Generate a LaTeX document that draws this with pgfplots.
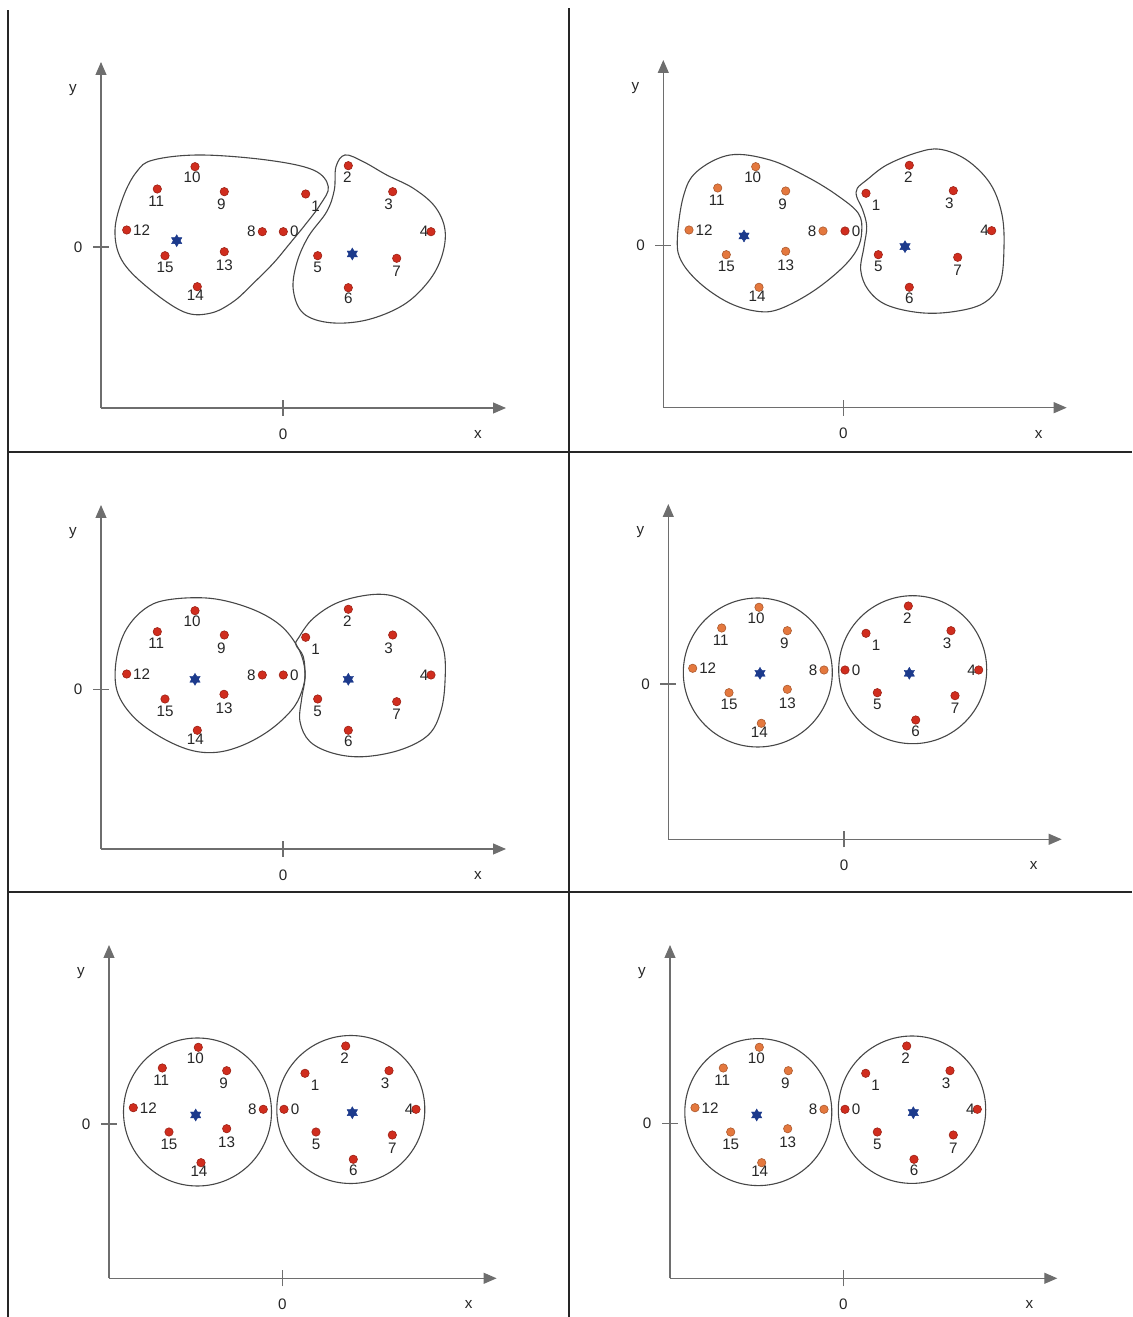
\documentclass[border=0pt]{standalone}
\usepackage{fontspec}
\setmainfont{Liberation Sans}
\usepackage{pgfplots}
\usepackage{pgfplotstable}
\pgfplotsset{compat=1.18}
\usetikzlibrary{arrows.meta}

\definecolor{ptred}{RGB}{208,45,30}
\definecolor{ptorange}{RGB}{228,120,62}
\definecolor{starblue}{RGB}{28,58,140}
\definecolor{axgray}{RGB}{110,110,110}

\newcommand{\lblfont}{\fontsize{7.6}{9}\selectfont}

% filled six-pointed star for the cluster centres
\pgfdeclareplotmark{hexstar}{%
  \pgfpathmoveto{\pgfqpoint{0pt}{\pgfplotmarksize}}%
  \pgfpathlineto{\pgfqpointpolar{210}{\pgfplotmarksize}}%
  \pgfpathlineto{\pgfqpointpolar{330}{\pgfplotmarksize}}%
  \pgfpathclose
  \pgfpathmoveto{\pgfqpoint{0pt}{-\pgfplotmarksize}}%
  \pgfpathlineto{\pgfqpointpolar{30}{\pgfplotmarksize}}%
  \pgfpathlineto{\pgfqpointpolar{150}{\pgfplotmarksize}}%
  \pgfpathclose
  \pgfusepathqfillstroke
}

\tikzset{blobline/.style={draw=black!72, line width=0.55pt}}

\pgfplotsset{
  panel/.style={
    x=0.5pt, y=0.5pt,
    axis lines=left,
    axis line style={draw=axgray, line width=0.55pt},
    x axis line style={-{Triangle[length=6.5pt,width=5.5pt]}},
    y axis line style={-{Triangle[length=6.5pt,width=5.5pt]}},
    xtick={0}, ytick={0},
    tick align=center, major tick length=8pt,
    tick style={draw=axgray, line width=0.55pt},
    xticklabel style={anchor=center, yshift=-9pt},
    yticklabel style={anchor=center, xshift=-7.4pt},
    ticklabel style={font=\lblfont, text=black!85},
    /pgf/number format/assume math mode=true,
    enlargelimits=false, clip=false,
    anchor=origin,
    extra description/.code={
      \node[font=\lblfont, text=black!85, xshift=-14pt, yshift=-13.3pt] at (1,0) {x};
      \node[font=\lblfont, text=black!85, xshift=-14pt, yshift=-13.8pt] at (0,1) {y};
    },
  },
  pts/.style={
    only marks, mark=*, mark size=2.1pt,
    mark options={fill=#1, draw=#1!75!black, line width=0.3pt},
    nodes near coords, point meta=explicit symbolic,
    visualization depends on={\thisrow{dx}\as\lblx},
    visualization depends on={\thisrow{dy}\as\lbly},
    every node near coord/.append style={anchor=center,
      xshift={0.5pt*(\lblx)}, yshift={0.5pt*(\lbly)},
      font=\lblfont, text=black!85, inner sep=0pt},
  },
  centres/.style={
    only marks, mark=hexstar, mark size=3pt,
    mark options={fill=starblue, draw=starblue, line width=0.2pt},
  },
}

% ---------- panel 1 ----------
\pgfplotstableread{
x y dx dy lbl
0.3 15.3 11 0 0
22.7 53 10 -12 1
65.3 81.3 -1 -12 2
109.7 55.3 -4 -13 3
148 15.3 -7 0 4
34.7 -8.7 0 -12 5
65.3 -40.7 0 -11 6
113.7 -11.3 0 -13 7
}\pAa
\pgfplotstableread{
x y dx dy lbl
-20.7 15.3 -11 0 8
-58.7 55.3 -3 -13 9
-88 80.3 -3 -11 10
-125.7 58 -1 -12 11
-156.3 17 15 0 12
-58.7 -4.7 0 -14 13
-85.7 -39.7 -2 -9 14
-118 -8.7 0 -12 15
}\pAb
% ---------- panel 2 ----------
\pgfplotstableread{
x y dx dy lbl
1.7 14.7 11 0 0
22.7 52.4 10 -12 1
66 80.4 -1 -12 2
110 55 -4 -13 3
148.4 15 -7 0 4
35 -9 0 -12 5
66 -41.6 0 -11 6
114.4 -11.6 0 -13 7
}\pBa
\pgfplotstableread{
x y dx dy lbl
-20.3 14.7 -11 0 8
-57.6 54.7 -3 -13 9
-87.6 79 -3 -11 10
-125.6 57.7 -1 -12 11
-154.3 15.7 15 0 12
-57.6 -5.6 0 -14 13
-84.3 -41.6 -2 -9 14
-117 -9 0 -12 15
}\pBb
% ---------- panel 3 ----------
\pgfplotstableread{
x y dx dy lbl
0.3 14.5 11 0 0
22.7 52.2 10 -12 1
65.3 80.2 -1 -12 2
109.7 54.5 -4 -13 3
148 14.5 -7 0 4
34.7 -9.5 0 -12 5
65.3 -40.8 0 -11 6
113.7 -12.2 0 -13 7
}\pCa
\pgfplotstableread{
x y dx dy lbl
-20.7 14.5 -11 0 8
-58.7 54.5 -3 -13 9
-88 78.8 -3 -11 10
-125.7 57.8 -1 -12 11
-156.3 15.5 15 0 12
-59 -4.8 0 -14 13
-85.7 -40.8 -2 -9 14
-118 -9.5 0 -12 15
}\pCb
% ---------- panel 4 ----------
\pgfplotstableread{
x y dx dy lbl
1 14 11 0 0
22 50.7 10 -12 1
64.3 78 -1 -12 2
107 53.3 -4 -13 3
134.7 14 -7 0 4
33.3 -8.7 0 -12 5
71.7 -36 0 -11 6
111 -11.7 0 -13 7
}\pDa
\pgfplotstableread{
x y dx dy lbl
-20 14 -11 0 8
-56.7 53.3 -3 -13 9
-85 76.7 -3 -11 10
-122.3 56 -1 -12 11
-151.3 15.7 15 0 12
-56.7 -5.3 0 -14 13
-82.7 -39.3 -2 -9 14
-115 -8.7 0 -12 15
}\pDb
% ---------- panel 5 ----------
\pgfplotstableread{
x y dx dy lbl
1.7 14.7 11 0 0
22.7 50.7 10 -12 1
63.4 78 -1 -12 2
106.7 53.3 -4 -13 3
133.7 14.7 -7 0 4
33.7 -8 0 -12 5
71 -35.3 0 -11 6
110 -11 0 -13 7
}\pEa
\pgfplotstableread{
x y dx dy lbl
-19 14.7 -11 0 8
-55.6 53.3 -3 -13 9
-84 76.7 -3 -11 10
-120 56 -1 -12 11
-149 16.3 15 0 12
-55.6 -4.7 0 -14 13
-81.3 -38.7 -2 -9 14
-113.3 -8 0 -12 15
}\pEb
% ---------- panel 6 ----------
\pgfplotstableread{
x y dx dy lbl
1.7 14 11 0 0
22.4 50 10 -12 1
63.4 77.3 -1 -12 2
106.7 52.6 -4 -13 3
134 14 -7 0 4
34 -8.7 0 -12 5
70.7 -36 0 -11 6
110 -11.7 0 -13 7
}\pFa
\pgfplotstableread{
x y dx dy lbl
-19.3 14 -11 0 8
-55 52.6 -3 -13 9
-84 76 -3 -11 10
-120 55.3 -1 -12 11
-148.3 15.6 15 0 12
-55.6 -5.4 0 -14 13
-81.6 -39.4 -2 -9 14
-112.6 -8.7 0 -12 15
}\pFb

\begin{document}
\begin{tikzpicture}[x=0.5pt,y=0.5pt]
\useasboundingbox (0,0) rectangle (1132,1317);
% frame lines between the six panels
\draw[line width=1pt, black!85] (8,0) -- (8,1307);
\draw[line width=1pt, black!85] (569,0) -- (569,1309);
\draw[line width=1pt, black!85] (8,865) -- (1132,865);
\draw[line width=1pt, black!85] (8,425) -- (1132,425);

% ---------------- panel 1 ----------------
\begin{axis}[panel, at={(283,1070)}, xmin=-182, xmax=223, ymin=-161, ymax=185]
\draw[blobline] plot[smooth cycle, tension=0.6] coordinates {
 (axis cs:-129.7,87) (axis cs:-83,92) (axis cs:-16.3,87) (axis cs:30.3,77)
 (axis cs:45.3,60.3) (axis cs:37,42) (axis cs:22,22) (axis cs:7,3.7)
 (axis cs:-9.7,-16.3) (axis cs:-29.7,-36.3) (axis cs:-49.7,-54.7) (axis cs:-73,-66.3)
 (axis cs:-99.7,-64.7) (axis cs:-136.3,-39.7) (axis cs:-161.3,-13) (axis cs:-168,17)
 (axis cs:-159.7,50.3) (axis cs:-146.3,75.3)};
\draw[blobline] plot[smooth cycle, tension=0.6] coordinates {
 (axis cs:62,92) (axis cs:80.3,85.3) (axis cs:103.7,72) (axis cs:130.3,58.7)
 (axis cs:152,40.3) (axis cs:162,17) (axis cs:158.7,-9.7) (axis cs:145.3,-34.7)
 (axis cs:120.3,-58) (axis cs:83.7,-73) (axis cs:47,-75.7) (axis cs:20.3,-66.3)
 (axis cs:10.3,-43) (axis cs:13.7,-16.3) (axis cs:25.3,10.3) (axis cs:43.7,35.3)
 (axis cs:51.3,57) (axis cs:53,80.3)};
\addplot[pts=ptred] table[x=x,y=y,meta=lbl] {\pAa};
\addplot[pts=ptred] table[x=x,y=y,meta=lbl] {\pAb};
\addplot[centres] coordinates {(-106.3,6.3) (69.3,-7)};
\end{axis}

% ---------------- panel 2 ----------------
\begin{axis}[panel, at={(843.3,1071.3)}, xmin=-180, xmax=223.4, ymin=-162, ymax=185.7]
\draw[blobline] plot[smooth cycle, tension=0.6] coordinates {
 (axis cs:-166,5.7) (axis cs:-160,49) (axis cs:-146.6,74) (axis cs:-113.3,90.7)
 (axis cs:-73.3,85.7) (axis cs:-36.6,69) (axis cs:-6.6,50.7) (axis cs:15,32.4)
 (axis cs:18.4,14) (axis cs:13.4,-4.3) (axis cs:-3.3,-24.3) (axis cs:-33.3,-47.6)
 (axis cs:-66.6,-64.3) (axis cs:-90,-65) (axis cs:-116.6,-56) (axis cs:-143.3,-37.6)
 (axis cs:-161.6,-16)};
\draw[blobline] plot[smooth cycle, tension=0.6] coordinates {
 (axis cs:14,57.4) (axis cs:13.4,49) (axis cs:19.4,35.7) (axis cs:23.4,19)
 (axis cs:20.7,-1) (axis cs:17.4,-24.3) (axis cs:25,-44.3) (axis cs:43.4,-59.3)
 (axis cs:76.7,-67) (axis cs:110,-66) (axis cs:140,-57.6) (axis cs:156.7,-37.6)
 (axis cs:160.7,-1) (axis cs:158.4,32.4) (axis cs:146.7,62.4) (axis cs:123.4,85.7)
 (axis cs:96.7,96.4) (axis cs:73.4,93) (axis cs:43.4,80.7) (axis cs:23.4,65.7)};
\addplot[pts=ptred] table[x=x,y=y,meta=lbl] {\pBa};
\addplot[pts=ptorange] table[x=x,y=y,meta=lbl] {\pBb};
\addplot[centres] coordinates {(-99.3,9.7) (61.7,-1)};
\end{axis}

% ---------------- panel 3 ----------------
\begin{axis}[panel, at={(283,627.5)}, xmin=-182, xmax=223, ymin=-159.5, ymax=184.5]
\draw[blobline] plot[smooth cycle, tension=0.6] coordinates {
 (axis cs:-139.7,79.5) (axis cs:-116.3,89.5) (axis cs:-73,91.2) (axis cs:-33,81.2)
 (axis cs:-3,64.5) (axis cs:15.3,41.2) (axis cs:22,17.8) (axis cs:18.7,-2.2)
 (axis cs:8.7,-20.5) (axis cs:-13,-40.5) (axis cs:-39.7,-55.5) (axis cs:-66.3,-62.8)
 (axis cs:-93,-60.5) (axis cs:-123,-47.2) (axis cs:-149.7,-27.2) (axis cs:-165.7,-2.2)
 (axis cs:-167,27.8) (axis cs:-158,57.8)};
\draw[blobline] plot[smooth cycle, tension=0.6] coordinates {
 (axis cs:15.3,51.2) (axis cs:30.3,71.2) (axis cs:57,87.8) (axis cs:93.7,95.2)
 (axis cs:120.3,89.5) (axis cs:145.3,69.5) (axis cs:160.3,41.2) (axis cs:162,7.8)
 (axis cs:157.7,-22.2) (axis cs:145.3,-45.5) (axis cs:117,-60.5) (axis cs:80.3,-67.2)
 (axis cs:50.3,-63.8) (axis cs:27,-52.2) (axis cs:17,-32.2) (axis cs:18.7,-8.8)
 (axis cs:22,11.2) (axis cs:20.3,32.8) (axis cs:13,44.5)};
\addplot[pts=ptred] table[x=x,y=y,meta=lbl] {\pCa};
\addplot[pts=ptred] table[x=x,y=y,meta=lbl] {\pCb};
\addplot[centres] coordinates {(-88,10.2) (65.3,10.2)};
\end{axis}

% ---------------- panel 4 ----------------
\begin{axis}[panel, at={(844,633)}, xmin=-175.7, xmax=217.7, ymin=-155.3, ymax=180]
\draw[blobline] (axis cs:-86.2,11.5) circle[radius=74.5];
\draw[blobline] (axis cs:68.7,14.3) circle[radius=74];
\addplot[pts=ptred] table[x=x,y=y,meta=lbl] {\pDa};
\addplot[pts=ptorange] table[x=x,y=y,meta=lbl] {\pDb};
\addplot[centres] coordinates {(-84,10.7) (65.3,10.7)};
\end{axis}

% ---------------- panel 5 ----------------
\begin{axis}[panel, at={(282.3,193)}, xmin=-173.3, xmax=214.3, ymin=-154.3, ymax=179]
\draw[blobline] (axis cs:-84.8,12) circle[radius=74];
\draw[blobline] (axis cs:68.5,14.5) circle[radius=74];
\addplot[pts=ptred] table[x=x,y=y,meta=lbl] {\pEa};
\addplot[pts=ptred] table[x=x,y=y,meta=lbl] {\pEb};
\addplot[centres] coordinates {(-86.6,9) (70,11.3)};
\end{axis}

% ---------------- panel 6 ----------------
\begin{axis}[panel, at={(843.3,193.7)}, xmin=-173.3, xmax=214, ymin=-155, ymax=178.3]
\draw[blobline] (axis cs:-85,11.2) circle[radius=73.5];
\draw[blobline] (axis cs:68.7,13.6) circle[radius=73.7];
\addplot[pts=ptred] table[x=x,y=y,meta=lbl] {\pFa};
\addplot[pts=ptorange] table[x=x,y=y,meta=lbl] {\pFb};
\addplot[centres] coordinates {(-86.6,8.3) (70,10.6)};
\end{axis}
\end{tikzpicture}
\end{document}
